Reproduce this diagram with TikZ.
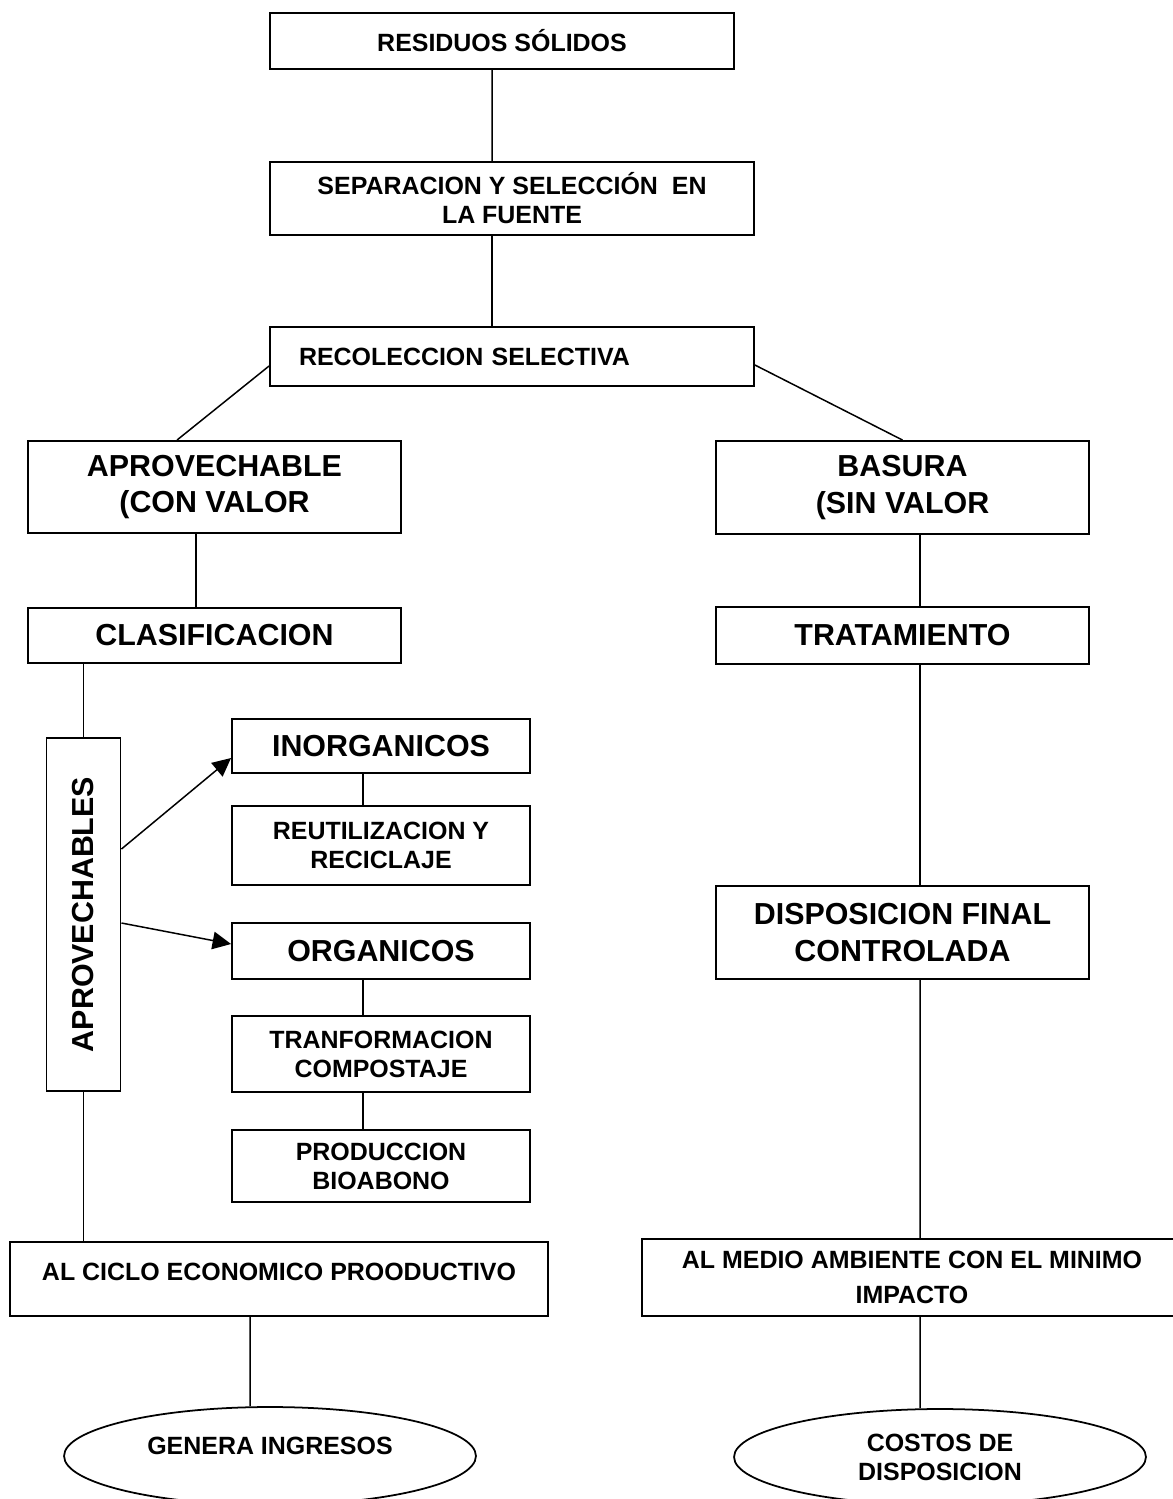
\documentclass[tikz,border=0pt]{standalone}
\usepackage{fontspec}
\setmainfont{Liberation Sans}
\usetikzlibrary{positioning,arrows.meta,shapes.geometric}

\begin{document}
\begin{tikzpicture}[x=0.02cm,y=-0.02cm,
    caja/.style={rectangle,draw,line width=1.1pt,inner sep=0pt,align=center,font=\fontsize{14.2}{16.5}\selectfont\bfseries},
    grande/.style={font=\fontsize{17.3}{21}\selectfont\bfseries},
    elipse/.style={ellipse,draw,line width=1pt,inner sep=0pt,align=center,minimum width=8.24cm,font=\fontsize{14.2}{16.5}\selectfont\bfseries},
    linea/.style={line width=0.85pt},
    flecha/.style={line width=0.85pt,-{Triangle[length=10.5pt,width=10pt]}}]

\useasboundingbox (0,0) rectangle (1173,1499);
\clip (0,0) rectangle (1173,1499);

\node[caja,minimum width=9.28cm,minimum height=1.12cm] (res) at (502,41) {RESIDUOS SÓLIDOS};
\node[caja,minimum width=9.68cm,minimum height=1.46cm] (sep) at (512,198.5) {SEPARACION Y SELECCIÓN\ \ EN\\LA FUENTE};
\node[caja,text width=8.52cm,inner xsep=0.58cm,align=left,minimum height=1.18cm] (rec) at (512,356.5) {RECOLECCION SELECTIVA};

\node[caja,grande,minimum width=7.46cm,minimum height=1.84cm] (apr) at (214.5,487) {APROVECHABLE\\(CON VALOR};
\node[caja,grande,minimum width=7.46cm,minimum height=1.86cm] (bas) at (902.5,487.5) {BASURA\\(SIN VALOR};
\node[caja,grande,minimum width=7.46cm,minimum height=1.1cm] (cla) at (214.5,635.5) {CLASIFICACION};
\node[caja,grande,minimum width=7.46cm,minimum height=1.14cm] (tra) at (902.5,635.5) {TRATAMIENTO};

\node[caja,grande,rotate=90,minimum width=7.06cm,minimum height=1.48cm] (aps) at (83.5,914.5) {APROVECHABLES};

\node[caja,grande,minimum width=5.96cm,minimum height=1.08cm] (ino) at (381,746) {INORGANICOS};
\node[caja,minimum width=5.96cm,minimum height=1.58cm] (reu) at (381,845.5) {REUTILIZACION Y\\RECICLAJE};
\node[caja,grande,minimum width=5.96cm,minimum height=1.12cm] (org) at (381,951) {ORGANICOS};
\node[caja,minimum width=5.96cm,minimum height=1.52cm] (trf) at (381,1054) {TRANFORMACION\\COMPOSTAJE};
\node[caja,minimum width=5.96cm,minimum height=1.44cm] (pro) at (381,1166) {PRODUCCION\\BIOABONO};

\node[caja,grande,minimum width=7.46cm,minimum height=1.86cm] (dis) at (902.5,932.5) {DISPOSICION FINAL\\CONTROLADA};

\node[caja,minimum width=10.76cm,text height=0.76cm,text depth=0.72cm] (cic) at (279,1279) {AL CICLO ECONOMICO PROODUCTIVO};
\node[caja,minimum width=10.8cm,minimum height=1.54cm] (med) at (912,1277.5) {AL MEDIO AMBIENTE CON EL MINIMO\\[3pt]IMPACTO};

\node[elipse,minimum height=1.96cm,text height=0.36cm,text depth=0.42cm] (gen) at (270,1456) {GENERA INGRESOS};
\node[elipse,minimum height=1.92cm] (cos) at (940,1457) {COSTOS DE\\DISPOSICION};

\draw[linea] ([xshift=-.2cm]res.south) -- ([xshift=-.4cm]sep.north);
\draw[linea] ([xshift=-.4cm]sep.south) -- ([xshift=-.4cm]rec.north);
\draw[linea] ([yshift=-.19cm]rec.west) -- ([xshift=-.75cm]apr.north);
\draw[linea] ([yshift=-.17cm]rec.east) -- (bas.north);
\draw[linea] ([xshift=-.37cm]apr.south) -- ([xshift=-.37cm]cla.north);
\draw[linea] ([xshift=.35cm]bas.south) -- ([xshift=.35cm]tra.north);
\draw[linea] ([xshift=.35cm]tra.south) -- ([xshift=.35cm]dis.north);
\draw[linea] ([xshift=.35cm]dis.south) -- ([xshift=.16cm]med.north);
\draw[linea] ([xshift=.16cm]med.south) -- ([xshift=-.4cm]cos.north);
\draw[linea] (cla.south -| aps.east) -- (aps.east);
\draw[linea] (aps.west) -- (aps.west |- cic.north);
\draw[linea] ([xshift=-.58cm]cic.south) -- ([xshift=-.4cm]gen.north);
\draw[linea] ([xshift=-.36cm]ino.south) -- ([xshift=-.36cm]reu.north);
\draw[linea] ([xshift=-.36cm]org.south) -- ([xshift=-.36cm]trf.north);
\draw[linea] ([xshift=-.36cm]trf.south) -- ([xshift=-.36cm]pro.north);
\draw[flecha] ([yshift=1.31cm]aps.south) -- ([yshift=-.24cm]ino.west);
\draw[flecha] ([yshift=-.17cm]aps.south) -- ([yshift=.14cm]org.west);

\end{tikzpicture}
\end{document}
